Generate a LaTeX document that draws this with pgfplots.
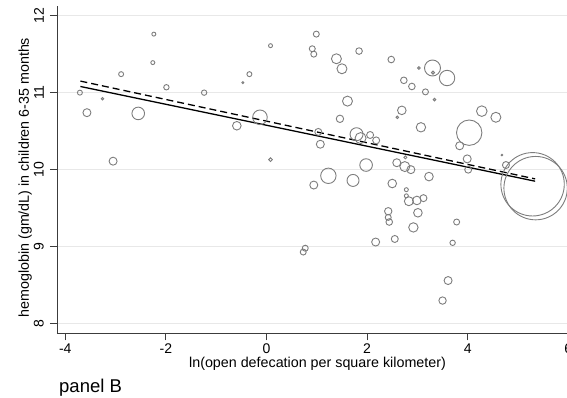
\documentclass[border=0pt]{standalone}
\usepackage{fontspec}
\setmainfont{Liberation Sans}
\usepackage{pgfplots}
\pgfplotsset{compat=1.18}
\usepackage{pgfplotstable}
\definecolor{circgray}{RGB}{125,125,125}
\definecolor{gridgray}{RGB}{232,232,232}
\definecolor{axgray}{RGB}{60,60,60}

\pgfplotstableread{
x y r
-3.71 11.00 2.5
-3.57 10.74 4
-3.26 10.92 1.2
-2.89 11.24 2.5
-2.24 11.76 2
-2.26 11.39 2
-1.99 11.07 2.7
-2.55 10.73 6.3
-3.05 10.11 4
-1.24 11.00 2.7
-0.59 10.57 4.3
-0.13 10.68 7.3
-0.47 11.13 1
-0.34 11.24 2.5
0.08 11.61 2
0.08 10.13 1.8
0.99 11.76 3
0.91 11.57 3
0.94 11.50 3
1.39 11.44 5
1.50 11.31 5
1.84 11.54 3.3
2.48 11.43 3.3
3.03 11.32 1.3
3.30 11.32 8
3.31 11.26 1.5
3.59 11.19 7.7
2.73 11.16 3.3
2.89 11.08 3.3
3.16 11.01 3
3.34 10.91 1.3
1.61 10.89 5
1.46 10.66 3.7
2.69 10.77 4.3
2.60 10.68 1.3
3.07 10.55 4.7
4.03 10.48 12.7
4.28 10.76 5.3
4.56 10.68 5
3.84 10.31 4
3.99 10.14 4
4.01 10.00 3.5
4.68 10.19 0.8
4.76 10.06 3.5
5.29 9.81 31.7
5.35 9.76 31.7
3.78 9.32 3
3.70 9.05 2.7
1.03 10.49 3.5
1.07 10.33 4
1.79 10.46 6.5
1.87 10.41 5.5
2.06 10.45 3.5
2.18 10.38 3.5
1.98 10.06 6.3
1.23 9.92 7.7
0.94 9.80 4
1.72 9.86 6
2.50 9.82 4.3
2.59 10.09 4
2.75 10.04 5
2.87 10.00 4
2.76 10.16 1.5
2.78 9.74 2
2.78 9.66 2
2.83 9.59 4.5
2.99 9.60 4.3
3.12 9.63 3.5
3.23 9.91 4.3
3.01 9.44 4.3
2.92 9.25 4.7
2.42 9.46 3.7
2.42 9.38 3
2.44 9.32 3.3
2.55 9.10 3.5
2.17 9.06 4
0.77 8.98 3
0.73 8.93 3
3.61 8.56 4
3.50 8.30 3.7
}\bubbles

\begin{document}
\begin{tikzpicture}
\useasboundingbox (-57pt,-64.7pt) rectangle (510pt,333.3pt);
\clip (-57pt,-64.7pt) rectangle (510pt,333.3pt);
\begin{axis}[
  at={(0,0)}, anchor=south west,
  scale only axis, width=511.3pt, height=326.9pt,
  xmin=-4.165, xmax=6, ymin=7.875, ymax=12.12,
  axis x line*=bottom, axis y line*=left,
  axis line style={axgray, line width=0.9pt, -},
  xtick={-4,-2,0,2,4,6}, xticklabels={-4,-2,0,2,4,6},
  ytick={8,9,10,11,12}, yticklabels={8,9,10,11,12},
  tick align=outside, major tick length=7pt,
  tick style={axgray, line width=0.9pt},
  ymajorgrids, grid style={gridgray, line width=1.2pt},
  ticklabel style={font=\fontsize{14}{16}\selectfont, inner sep=0pt},
  xticklabel style={anchor=north},
  yticklabel style={rotate=90, anchor=south},
  xticklabel shift=3pt, yticklabel shift=6pt,
  xlabel={ln(open defecation per square kilometer)},
  ylabel={hemoglobin (gm/dL) in children 6-35 months},
  label style={font=\fontsize{14.3}{16}\selectfont, inner sep=0pt},
  xlabel style={at={(axis description cs:0.5095,-0.1061)}, anchor=base},
  ylabel style={at={(axis description cs:-0.0548,0.476)}, anchor=base},
  clip=false,
]
\addplot[scatter, only marks, mark=o,
  scatter/use mapped color={draw=circgray, fill=none},
  line width=0.9pt,
  visualization depends on={\thisrow{r} \as \perpointmarksize},
  scatter/@pre marker code/.append style={/tikz/mark size=\perpointmarksize},
] table[x=x, y=y, meta=r] {\bubbles};
\addplot[black, line width=1.3pt, no marks] coordinates {(-3.70,11.08) (5.34,9.85)};
\addplot[black, line width=1.3pt, no marks, dash pattern=on 7pt off 4pt] coordinates {(-3.70,11.15) (5.34,9.88)};
\end{axis}
\node[anchor=base west, font=\fontsize{18.5}{20}\selectfont, inner sep=0pt] at (2pt,-59.7pt) {panel B};
\end{tikzpicture}
\end{document}
